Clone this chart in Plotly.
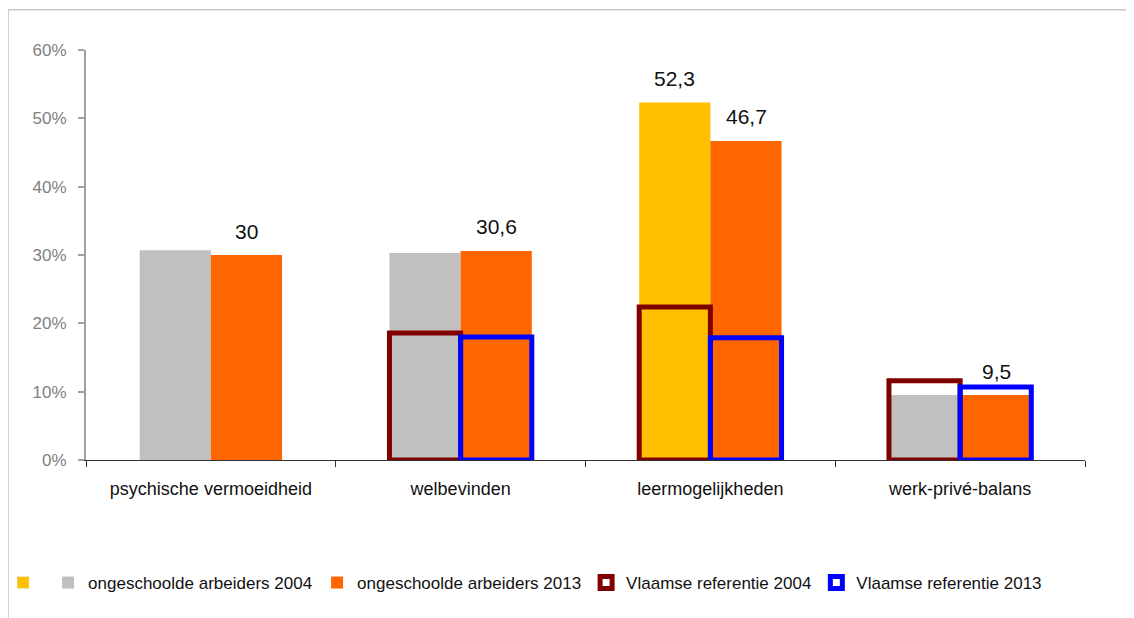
import plotly.graph_objects as go

# data
categories = ["psychische vermoeidheid", "welbevinden", "leermogelijkheden", "werk-privé-balans"]
arbeiders_2004 = [30.7, 30.3, 52.3, 9.5]
arbeiders_2013 = [30.0, 30.6, 46.7, 9.5]
referentie_2004 = [None, 18.6, 22.4, 11.6]
referentie_2013 = [None, 18.0, 17.9, 10.7]
labelled_2004 = ["leermogelijkheden"]
y_ticks = [0, 10, 20, 30, 40, 50, 60]

GRAY = "#C0C0C0"
GOLD = "#FFC000"
ORANGE = "#FF6600"
DARKRED = "#800000"
BLUE = "#0000FF"
colors_2004 = [GOLD if c == "leermogelijkheden" else GRAY for c in categories]

W = 0.285

def fmt(v):
    return f"{v:g}".replace(".", ",")

fig = go.Figure()

# lone yellow legend swatch as in the original
fig.add_trace(go.Bar(x=[categories[0]], y=[None], name="", marker_color=GOLD))

fig.add_trace(go.Bar(
    x=categories, y=arbeiders_2004, name="ongeschoolde arbeiders 2004",
    marker=dict(color=colors_2004, line_width=0),
    width=W, offset=-W,
))
fig.add_trace(go.Bar(
    x=categories, y=arbeiders_2013, name="ongeschoolde arbeiders 2013",
    marker=dict(color=ORANGE, line_width=0),
    width=W, offset=0,
))
fig.add_trace(go.Bar(
    x=categories, y=referentie_2004, name="Vlaamse referentie 2004",
    marker=dict(color="rgba(0,0,0,0)", line=dict(color=DARKRED, width=5)),
    width=W, offset=-W,
))
fig.add_trace(go.Bar(
    x=categories, y=referentie_2013, name="Vlaamse referentie 2013",
    marker=dict(color="rgba(0,0,0,0)", line=dict(color=BLUE, width=5)),
    width=W, offset=0,
))

# value labels above bars
annotations = []
for c, v in zip(categories, arbeiders_2013):
    annotations.append(dict(x=c, y=v, text=fmt(v), xshift=36, yshift=24,
                            showarrow=False, font=dict(size=21, color="#111")))
for c, v in zip(categories, arbeiders_2004):
    if c in labelled_2004:
        annotations.append(dict(x=c, y=v, text=fmt(v), xshift=-36, yshift=24,
                                showarrow=False, font=dict(size=21, color="#111")))

# thin grey frame (top and left edges only, like the source image)
frame = dict(color="#C8C8C8", width=1.5)
shapes = [
    dict(type="line", xref="paper", yref="paper", x0=-0.078, x1=1.05, y0=1.098, y1=1.098, line=frame),
    dict(type="line", xref="paper", yref="paper", x0=-0.078, x1=-0.078, y0=-0.39, y1=1.098, line=frame),
]

fig.update_layout(
    width=1134, height=618,
    barmode="overlay",
    paper_bgcolor="white", plot_bgcolor="white",
    font=dict(family="Liberation Sans, Arial, sans-serif", size=16, color="#111"),
    margin=dict(l=78, r=57, t=42, b=166, autoexpand=False),
    xaxis=dict(
        type="category", categoryorder="array", categoryarray=categories,
        showline=True, linecolor="#333", linewidth=1,
        ticks="outside", tickson="boundaries", ticklen=6, tickcolor="#333",
        ticklabelstandoff=12,
        tickfont=dict(size=18, color="#111"),
        showgrid=False, automargin=False,
    ),
    yaxis=dict(
        range=[0, 60], tickvals=y_ticks, ticktext=[f"{t}%" for t in y_ticks],
        showline=True, linecolor="#A0A0A0", linewidth=2,
        ticks="outside", ticklen=6, tickcolor="#A0A0A0", tickwidth=2,
        ticklabelstandoff=8,
        tickfont=dict(size=17, color="#808080"),
        showgrid=False, zeroline=False, automargin=False,
    ),
    legend=dict(
        orientation="h",
        x=-0.083, xanchor="left", y=-0.30, yanchor="middle",
        bgcolor="rgba(0,0,0,0)",
        font=dict(size=17, color="#111"), traceorder="normal",
    ),
    annotations=annotations,
    shapes=shapes,
    showlegend=True,
)

fig.write_html("out.html")
